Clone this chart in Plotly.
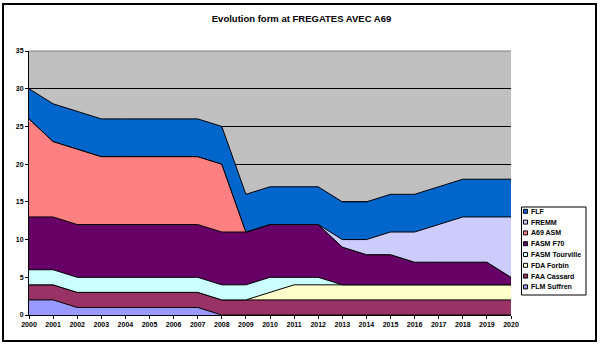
import plotly.graph_objects as go

years = list(range(2000, 2021))
flm_suffren = [2, 2, 1, 1, 1, 1, 1, 1, 0, 0, 0, 0, 0, 0, 0, 0, 0, 0, 0, 0, 0]
faa_cassard = [2] * 21
fda_forbin = [0, 0, 0, 0, 0, 0, 0, 0, 0, 0, 1, 2, 2, 2, 2, 2, 2, 2, 2, 2, 2]
fasm_tourville = [2, 2, 2, 2, 2, 2, 2, 2, 2, 2, 2, 1, 1, 0, 0, 0, 0, 0, 0, 0, 0]
fasm_f70 = [7, 7, 7, 7, 7, 7, 7, 7, 7, 7, 7, 7, 7, 5, 4, 4, 3, 3, 3, 3, 1]
a69_asm = [13, 10, 10, 9, 9, 9, 9, 9, 9, 0, 0, 0, 0, 0, 0, 0, 0, 0, 0, 0, 0]
fremm = [0, 0, 0, 0, 0, 0, 0, 0, 0, 0, 0, 0, 0, 1, 2, 3, 4, 5, 6, 6, 8]
flf = [4, 5, 5, 5, 5, 5, 5, 5, 5, 5, 5, 5, 5, 5, 5, 5, 5, 5, 5, 5, 5]

legend_names = ["FLM Suffren", "FAA Cassard", "FDA Forbin", "FASM Tourville",
                "FASM F70", "A69 ASM", "FREMM", "FLF"]
series_values = [flm_suffren, faa_cassard, fda_forbin, fasm_tourville,
                 fasm_f70, a69_asm, fremm, flf]
colors = ["#9999FF", "#993366", "#FFFFCC", "#CCFFFF",
          "#660066", "#FF8080", "#CCCCFF", "#0066CC"]

W, H = 603, 345
L, R, T, B = 29, 511, 51, 315


def px(x):
    return (x - L) / (R - L)


def py(y):
    return (B - y) / (B - T)


fig = go.Figure()
for name, vals, col in zip(legend_names, series_values, colors):
    fig.add_trace(go.Scatter(
        x=years, y=vals, name=name, mode="lines", stackgroup="one",
        line=dict(color="black", width=1), fillcolor=col, showlegend=False,
    ))

shapes = [
    dict(type="rect", xref="paper", yref="paper", x0=px(3), x1=px(596), y0=py(341), y1=py(4),
         line=dict(color="black", width=2), fillcolor="rgba(0,0,0,0)", layer="below"),
    dict(type="line", xref="paper", yref="paper", x0=0, x1=1, y0=1, y1=1,
         line=dict(color="#808080", width=1)),
    dict(type="rect", xref="paper", yref="paper", x0=px(521.5), x1=px(586), y0=py(295), y1=py(207),
         line=dict(color="black", width=1), fillcolor="white"),
]
annotations = []
leg_top = 211.3
step = 10.8
for i, (name, col) in enumerate(reversed(list(zip(legend_names, colors)))):
    yc = leg_top + i * step
    shapes.append(dict(type="rect", xref="paper", yref="paper",
                       x0=px(523.5), x1=px(527.5), y0=py(yc + 2), y1=py(yc - 2),
                       line=dict(color="black", width=1), fillcolor=col))
    annotations.append(dict(text=name, xref="paper", yref="paper", x=px(529), y=py(yc),
                            xanchor="left", yanchor="middle", showarrow=False,
                            font=dict(family="Liberation Sans, Arial", size=7, color="black",
                                      weight="bold")))

fig.update_layout(
    width=W, height=H,
    margin=dict(l=L, r=W - R, t=T, b=H - B, autoexpand=False),
    paper_bgcolor="white", plot_bgcolor="#C0C0C0",
    title=dict(text="<b>Evolution form at FREGATES AVEC A69</b>", x=0.5, xanchor="center",
               y=1 - 19 / H, yanchor="middle",
               font=dict(family="Liberation Sans, Arial", size=9.5, color="black")),
    showlegend=False,
    xaxis=dict(range=[2000, 2020], tickvals=years, ticktext=[str(y) for y in years],
               showgrid=False, zeroline=False, showline=True, linecolor="black",
               ticks="outside", ticklen=3, tickcolor="black", tickangle=0,
               tickfont=dict(family="Liberation Sans, Arial", size=7, color="black", weight="bold")),
    yaxis=dict(range=[0, 35], dtick=5, showgrid=True, gridcolor="black", gridwidth=1,
               zeroline=False, showline=True, linecolor="black",
               ticks="outside", ticklen=3, tickcolor="black",
               tickfont=dict(family="Liberation Sans, Arial", size=7, color="black", weight="bold")),
    shapes=shapes,
    annotations=annotations,
)
fig.write_html("out.html")
